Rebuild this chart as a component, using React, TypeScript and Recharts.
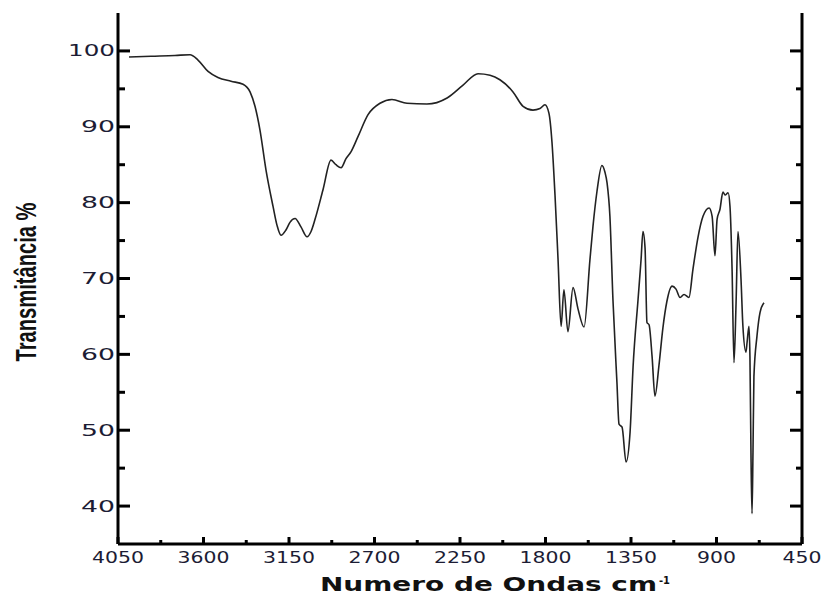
import React from 'react';
import { LineChart, Line, XAxis, YAxis } from 'recharts';

// FTIR spectrum: wavenumber (cm-1) vs transmittance (%)
const wavenumbers = [
  3992, 3876, 3750, 3671, 3629, 3576, 3524, 3455, 3392, 3355,
  3329, 3303, 3271, 3234, 3213, 3192, 3166, 3145, 3118, 3087,
  3055, 3034, 3013, 2971, 2929, 2903, 2876, 2850, 2824, 2787,
  2734, 2671, 2608, 2529, 2424, 2318, 2234, 2155, 2092, 2040,
  1971, 1918, 1866, 1829, 1803, 1782, 1766, 1750, 1734, 1718,
  1703, 1682, 1655, 1629, 1597, 1566, 1550, 1529, 1503, 1487,
  1476, 1461, 1445, 1424, 1413, 1397, 1376, 1355, 1339, 1313,
  1297, 1287, 1276, 1266, 1255, 1239, 1224, 1203, 1182, 1161,
  1134, 1113, 1092, 1071, 1045, 1024, 997, 971, 939, 923,
  908, 897, 882, 866, 855, 839, 829, 818, 808, 797,
  787, 771, 761, 745, 739, 729, 724, 718, 713, 708,
  703, 687, 671, 650,
];

const transmittance = [
  99.2, 99.3, 99.4, 99.5, 98.8, 97.3, 96.5, 96.0, 95.6, 94.6,
  92.7, 89.6, 84.3, 79.5, 77.0, 75.7, 76.4, 77.4, 77.9, 76.8,
  75.5, 76.2, 77.8, 81.7, 85.6, 85.0, 84.6, 85.8, 86.7, 88.7,
  91.6, 93.1, 93.6, 93.1, 93.0, 93.8, 95.5, 97.0, 96.8, 96.2,
  94.6, 92.7, 92.2, 92.4, 92.9, 91.8, 88.0, 81.0, 72.5, 63.7,
  68.5, 63.0, 68.8, 66.0, 63.6, 72.5, 76.9, 81.5, 84.9, 84.0,
  82.6, 78.2, 67.2, 56.3, 50.8, 50.4, 45.8, 49.7, 58.4, 67.2,
  72.5, 76.2, 74.0, 64.2, 63.9, 59.7, 54.5, 58.5, 63.5, 67.0,
  69.0, 68.6, 67.5, 67.9, 67.5, 71.2, 75.5, 78.2, 79.3, 78.2,
  73.0, 77.8, 79.1, 81.4, 81.0, 81.3, 79.5, 71.2, 58.9, 66.8,
  76.2, 69.9, 63.7, 60.3, 61.6, 63.7, 59.7, 45.8, 39.0, 47.1,
  57.1, 62.4, 65.5, 66.8,
];

// Axis ticks: every 225 cm-1 / 5 %, labelled every 450 cm-1 / 10 %
const xTicks = [450, 675, 900, 1125, 1350, 1575, 1800, 2025, 2250, 2475, 2700, 2925, 3150, 3375, 3600, 3825, 4050];
const xLabels = [450, 900, 1350, 1800, 2250, 2700, 3150, 3600, 4050];
const yTicks = [40, 45, 50, 55, 60, 65, 70, 75, 80, 85, 90, 95, 100];
const yLabels = [40, 50, 60, 70, 80, 90, 100];

const xDomain = [450, 4050];
const yDomain = [35, 105];

const data = wavenumbers.map((wn, i) => ({ wn, t: transmittance[i] }));

const TICK_COLOR = '#1c1c34';
const TICK_FONT = "'DejaVu Sans', 'Liberation Sans', Arial, sans-serif";
const TICK_SIZE = 15;

function tickText(x: number, y: number, text: string, len: number) {
  return (
    <text
      x={x}
      y={y}
      textLength={len}
      lengthAdjust="spacingAndGlyphs"
      fontFamily={TICK_FONT}
      fontSize={TICK_SIZE}
      fill={TICK_COLOR}
    >
      {text}
    </text>
  );
}

function BottomTick(props: any) {
  const { x, y, payload } = props;
  const v = payload.value;
  const major = xLabels.includes(v);
  const text = String(v);
  const len = text.length * 13;
  return (
    <g>
      <line x1={x} x2={x} y1={y} y2={y - (major ? 7 : 4)} stroke="#000" strokeWidth={3} />
      {major && tickText(x - len / 2, y + 19, text, len)}
    </g>
  );
}

function TopTick(props: any) {
  const { x, y, payload } = props;
  const major = xLabels.includes(payload.value);
  return <line x1={x} x2={x} y1={y} y2={y + (major ? 7 : 4)} stroke="#000" strokeWidth={3} />;
}

function LeftTick(props: any) {
  const { x, y, payload } = props;
  const v = payload.value;
  const major = yLabels.includes(v);
  const text = String(v);
  const len = text.length === 3 ? 47 : 34;
  return (
    <g>
      <line x1={x} x2={x + (major ? 12 : 7)} y1={y} y2={y} stroke="#000" strokeWidth={3} />
      {major && tickText(x - 3 - len, y + 5.5, text, len)}
    </g>
  );
}

function RightTick(props: any) {
  const { x, y, payload } = props;
  const major = yLabels.includes(payload.value);
  return <line x1={x} x2={x - (major ? 12 : 6)} y1={y} y2={y} stroke="#000" strokeWidth={3} />;
}

function XTitle(props: any) {
  const vb = props.viewBox || { x: 118, y: 544, width: 684, height: 50 };
  const left = vb.x + 202;
  const base = vb.y + 47;
  return (
    <g fontFamily="'DejaVu Sans', 'Liberation Sans', Arial, sans-serif" fontWeight="bold" fill="#111">
      <text x={left} y={base} fontSize={19} textLength={337} lengthAdjust="spacingAndGlyphs">
        Numero de Ondas cm
      </text>
      <text x={left + 339} y={base - 7} fontSize={10} textLength={11} lengthAdjust="spacingAndGlyphs">
        -1
      </text>
    </g>
  );
}

function YTitle(props: any) {
  const vb = props.viewBox || { x: 0, y: 13, width: 118, height: 531 };
  const cx = vb.x + 36;
  const cy = vb.y + vb.height / 2 + 3.5;
  return (
    <text
      transform={`translate(${cx}, ${cy}) rotate(-90)`}
      x={-79.5}
      y={0}
      fontFamily="'Liberation Sans', Arial, sans-serif"
      fontWeight="bold"
      fontSize={30}
      textLength={159}
      lengthAdjust="spacingAndGlyphs"
      fill="#111"
    >
      Transmitância %
    </text>
  );
}

export default function App() {
  return (
    <div style={{ position: 'absolute', left: 0, top: 0, width: 821, height: 594, background: '#fff' }}>
      <LineChart width={821} height={594} data={data} margin={{ top: 13, right: 0, bottom: 0, left: 0 }}>
        <XAxis
          dataKey="wn"
          type="number"
          domain={xDomain}
          reversed
          ticks={xTicks}
          interval={0}
          allowDataOverflow
          height={50}
          axisLine={{ stroke: '#000', strokeWidth: 3 }}
          tickLine={false}
          tickSize={0}
          tickMargin={0}
          tick={<BottomTick />}
          label={<XTitle />}
        />
        <XAxis
          xAxisId="top"
          orientation="top"
          dataKey="wn"
          type="number"
          domain={xDomain}
          reversed
          ticks={xTicks}
          interval={0}
          allowDataOverflow
          height={0}
          axisLine={{ stroke: '#000', strokeWidth: 3 }}
          tickLine={false}
          tickSize={0}
          tickMargin={0}
          tick={<TopTick />}
        />
        <YAxis
          type="number"
          domain={yDomain}
          ticks={yTicks}
          interval={0}
          allowDataOverflow
          width={118}
          axisLine={{ stroke: '#000', strokeWidth: 3 }}
          tickLine={false}
          tickSize={0}
          tickMargin={0}
          tick={<LeftTick />}
          label={<YTitle />}
        />
        <YAxis
          yAxisId="right"
          orientation="right"
          type="number"
          domain={yDomain}
          ticks={yTicks}
          interval={0}
          allowDataOverflow
          width={19}
          axisLine={{ stroke: '#000', strokeWidth: 3 }}
          tickLine={false}
          tickSize={0}
          tickMargin={0}
          tick={<RightTick />}
        />
        <Line
          dataKey="t"
          type="monotone"
          stroke="#222"
          strokeWidth={1.6}
          dot={false}
          activeDot={false}
          isAnimationActive={false}
        />
      </LineChart>
    </div>
  );
}
